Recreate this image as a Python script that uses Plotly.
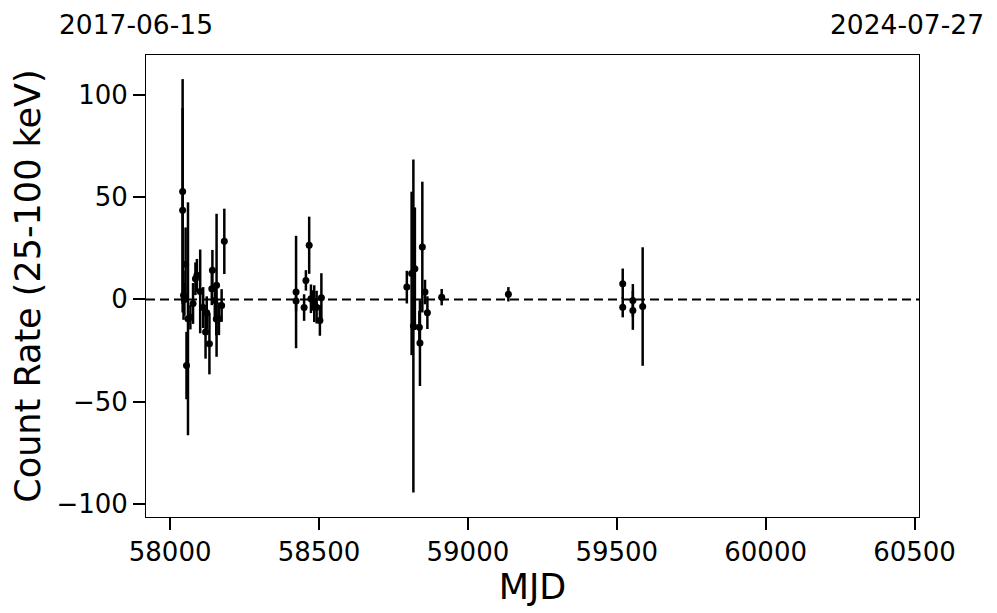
import plotly.graph_objects as go

mjd = [58042, 58042, 58045, 58048, 58052, 58055, 58060, 58068, 58077, 58085,
       58090, 58101, 58111, 58119, 58123, 58132, 58140, 58142, 58150, 58155,
       58156, 58164, 58173, 58182,
       58423, 58423, 58450, 58456, 58467, 58473, 58479, 58484, 58492, 58503, 58508,
       58795, 58811, 58817, 58822, 58837, 58839, 58847, 58856, 58864,
       58912, 59136, 59520, 59520, 59554, 59554, 59587]
rate = [52.8, 43.6, 2.0, 0.0, 17.2, -32.4, -9.5, -8.7, -2.0, 10.1,
        11.8, 3.9, -4.0, -16.0, -6.5, -21.7, 5.2, 14.2, -0.5, -9.6,
        6.9, -9.5, -3.0, 28.4,
        3.6, -0.8, -4.0, 9.3, 26.5, 0.3, -0.5, -2.1, -3.8, -10.3, 0.8,
        6.0, 12.7, -13.0, 15.0, -13.6, -21.4, 25.6, 3.6, -6.5,
        1.1, 2.5, 7.7, -3.8, -0.5, -5.4, -3.5]
err = [55, 50, 12, 8, 18, 16.5, 57, 6, 10, 8,
       8, 20.5, 10, 13, 8, 15, 8, 10, 8, 8,
       35, 8, 8, 16,
       27.5, 5, 6.5, 5, 14, 7, 5, 9, 8, 7.5, 12,
       8, 40, 81.5, 30, 8, 21, 32, 6, 8,
       4, 3.5, 7.4, 5, 8, 9.5, 29]

x_range = [57919, 60515]
y_range = [-106.5, 119.6]
y_ticks = [-100, -50, 0, 50, 100]
y_labels = ["\u2212100", "\u221250", "0", "50", "100"]
x_ticks = [58000, 58500, 59000, 59500, 60000, 60500]
x_labels = ["58000", "58500", "59000", "59500", "60000", "60500"]
date_left = "2017-06-15"
date_right = "2024-07-27"

font = "DejaVu Sans"

fig = go.Figure()
fig.add_trace(go.Scatter(
    x=mjd, y=rate, mode="markers",
    marker=dict(color="black", size=7),
    error_y=dict(type="data", array=err, visible=True, color="black",
                 thickness=2.5, width=0),
    showlegend=False,
))

fig.add_shape(type="line", xref="paper", yref="y", x0=0, x1=1, y0=0, y1=0,
              line=dict(color="black", width=2, dash="9px,5px"), layer="below")

fig.add_annotation(text=date_left, xref="paper", yref="paper",
                   x=(136 - 146) / 773, y=1.0, yshift=31, showarrow=False,
                   xanchor="center", yanchor="middle",
                   font=dict(family=font, size=26.5, color="black"))
fig.add_annotation(text=date_right, xref="paper", yref="paper",
                   x=(907 - 146) / 773, y=1.0, yshift=31, showarrow=False,
                   xanchor="center", yanchor="middle",
                   font=dict(family=font, size=26.5, color="black"))

fig.update_layout(
    width=989, height=605,
    margin=dict(l=138, r=78, t=47, b=96, autoexpand=False),
    paper_bgcolor="white", plot_bgcolor="white",
    font=dict(family=font, color="black"),
)
fig.update_xaxes(
    range=x_range, tickvals=x_ticks, ticktext=x_labels, showgrid=False, zeroline=False,
    showline=True, linecolor="black", linewidth=1, mirror=True, automargin=False,
    ticks="outside", ticklen=12, tickwidth=2, tickcolor="black",
    tickfont=dict(family=font, size=26),
    title=dict(text="MJD", font=dict(family=font, size=35), standoff=4),
)
fig.update_yaxes(
    range=y_range, tickvals=y_ticks, ticktext=y_labels,
    showgrid=False, zeroline=False, automargin=False,
    showline=True, linecolor="black", linewidth=1, mirror=True,
    ticks="outside", ticklen=12, tickwidth=2, tickcolor="black",
    tickfont=dict(family=font, size=26),
    title=dict(text="Count Rate (25-100 keV)", font=dict(family=font, size=35), standoff=10),
)

fig.write_html("out.html")
